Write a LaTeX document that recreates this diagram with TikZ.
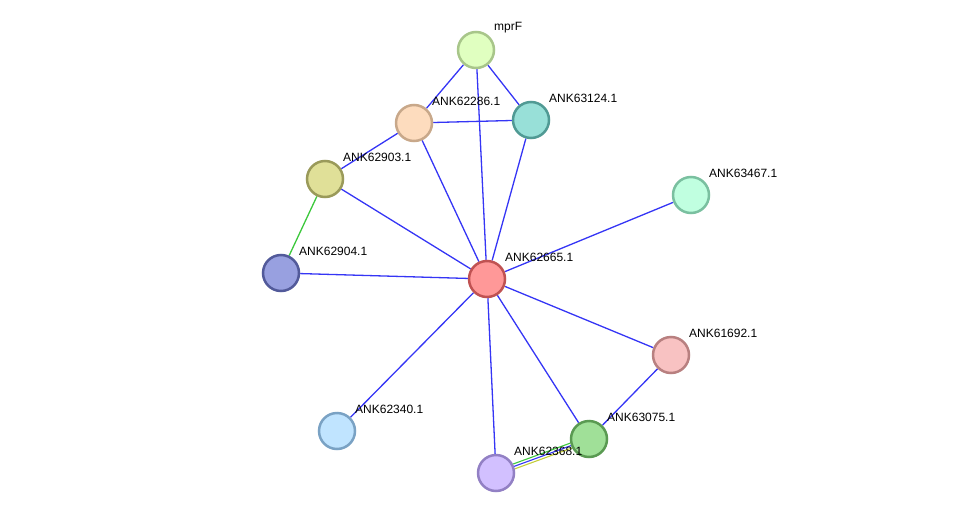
\documentclass[tikz,border=0pt]{standalone}
\usepackage{fontspec}
\setmainfont{Liberation Sans}
\usetikzlibrary{calc, backgrounds}

\definecolor{edgeblue}{HTML}{3535F5}
\definecolor{edgegreen}{HTML}{3CC83C}
\definecolor{edgeyellow}{HTML}{C4CE3A}

\begin{document}
\begin{tikzpicture}[x=1pt, y=-1pt]
    \tikzstyle{protein} = [circle, minimum size=36pt, inner sep=0pt, line width=2.5pt]
    \tikzstyle{proteinname} = [anchor=west, inner sep=0pt, font=\fontsize{12}{14}\selectfont]
    \tikzstyle{link} = [edgeblue, line width=1.3pt]

    \useasboundingbox (0, 0) rectangle (976, 519);

    % Proteins ------------------------------------------
    \node (mprF) at (476, 50) [protein, fill={rgb,255:red,224;green,255;blue,192}, draw={rgb,255:red,168;green,198;blue,138}] {};
    \node (p62286) at (414, 123) [protein, fill={rgb,255:red,253;green,220;blue,190}, draw={rgb,255:red,200;green,168;blue,138}] {};
    \node (p63124) at (531, 120) [protein, fill={rgb,255:red,152;green,224;blue,216}, draw={rgb,255:red,80;green,154;blue,148}] {};
    \node (p62903) at (325, 179) [protein, fill={rgb,255:red,224;green,224;blue,152}, draw={rgb,255:red,154;green,154;blue,90}] {};
    \node (p63467) at (691, 195) [protein, fill={rgb,255:red,192;green,255;blue,224}, draw={rgb,255:red,122;green,192;blue,160}] {};
    \node (p62904) at (281, 273) [protein, fill={rgb,255:red,152;green,160;blue,224}, draw={rgb,255:red,82;green,90;blue,154}] {};
    \node (p62665) at (487, 279) [protein, fill={rgb,255:red,255;green,152;blue,152}, draw={rgb,255:red,192;green,82;blue,82}] {};
    \node (p61692) at (671, 355) [protein, fill={rgb,255:red,248;green,194;blue,194}, draw={rgb,255:red,184;green,128;blue,128}] {};
    \node (p62340) at (337, 431) [protein, fill={rgb,255:red,192;green,228;blue,255}, draw={rgb,255:red,122;green,162;blue,196}] {};
    \node (p63075) at (589, 439) [protein, fill={rgb,255:red,160;green,224;blue,152}, draw={rgb,255:red,90;green,154;blue,82}] {};
    \node (p62368) at (496, 473) [protein, fill={rgb,255:red,210;green,192;blue,255}, draw={rgb,255:red,146;green,128;blue,196}] {};
    % ---------------------------------------------------

    % Names
    \node (mprF_name) at ($(mprF) + (18, -22)$) [proteinname] {mprF};
    \node (p62286_name) at ($(p62286) + (18, -22)$) [proteinname] {ANK62286.1};
    \node (p63124_name) at ($(p63124) + (18, -22)$) [proteinname] {ANK63124.1};
    \node (p62903_name) at ($(p62903) + (18, -22)$) [proteinname] {ANK62903.1};
    \node (p63467_name) at ($(p63467) + (18, -22)$) [proteinname] {ANK63467.1};
    \node (p62904_name) at ($(p62904) + (18, -22)$) [proteinname] {ANK62904.1};
    \node (p62665_name) at ($(p62665) + (18, -22)$) [proteinname] {ANK62665.1};
    \node (p61692_name) at ($(p61692) + (18, -22)$) [proteinname] {ANK61692.1};
    \node (p62340_name) at ($(p62340) + (18, -22)$) [proteinname] {ANK62340.1};
    \node (p63075_name) at ($(p63075) + (18, -22)$) [proteinname] {ANK63075.1};
    \node (p62368_name) at ($(p62368) + (18, -22)$) [proteinname] {ANK62368.1};

    % Interactions --------------------------------------
    \begin{scope}[on background layer]
        \draw [link] (mprF) -- (p62286);
        \draw [link] (mprF) -- (p63124);
        \draw [link] (mprF) -- (p62665);
        \draw [link] (p62286) -- (p63124);
        \draw [link] (p62286) -- (p62903);
        \draw [link] (p62286) -- (p62665);
        \draw [link] (p63124) -- (p62665);
        \draw [link] (p62903) -- (p62665);
        \draw [link] (p62904) -- (p62665);
        \draw [link] (p63467) -- (p62665);
        \draw [link] (p61692) -- (p62665);
        \draw [link] (p62340) -- (p62665);
        \draw [link] (p62368) -- (p62665);
        \draw [link] (p63075) -- (p62665);
        \draw [link] (p61692) -- (p63075);
        \draw [edgegreen, line width=1.3pt] (p62903) -- (p62904);

        % three evidence lines side by side
        \draw [edgegreen, line width=1.1pt, transform canvas={shift={(-0.9pt, 2.4pt)}}] (p62368) -- (p63075);
        \draw [edgeblue, line width=1.1pt] (p62368) -- (p63075);
        \draw [edgeyellow, line width=1.1pt, transform canvas={shift={(0.9pt, -2.4pt)}}] (p62368) -- (p63075);
    \end{scope}
\end{tikzpicture}
\end{document}
